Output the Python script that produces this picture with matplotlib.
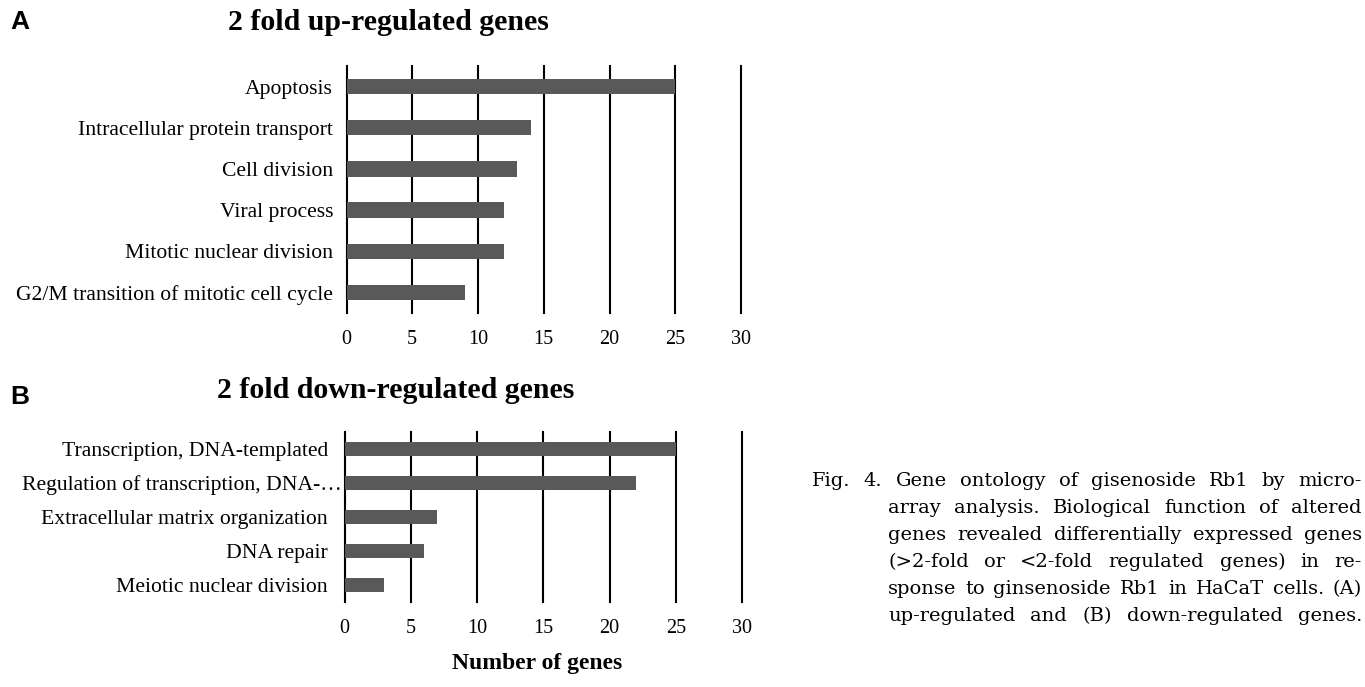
import matplotlib
matplotlib.use("Agg")
import matplotlib.pyplot as plt
import matplotlib.transforms as mtransforms

# ---------------- data ----------------
up_categories = ["Apoptosis", "Intracellular protein transport", "Cell division",
                 "Viral process", "Mitotic nuclear division",
                 "G2/M transition of mitotic cell cycle"]
up_values = [25, 14, 13, 12, 12, 9]

down_categories = ["Transcription, DNA-templated", "Regulation of transcription, DNA-\u2026",
                   "Extracellular matrix organization", "DNA repair",
                   "Meiotic nuclear division"]
down_values = [25, 22, 7, 6, 3]

x_ticks = [0, 5, 10, 15, 20, 25, 30]

title_up = "2 fold up-regulated genes"
title_down = "2 fold down-regulated genes"
xlabel = "Number of genes"

caption_lines = [
    "Fig. 4. Gene ontology of gisenoside Rb1 by micro-",
    "array analysis. Biological function of altered",
    "genes revealed differentially expressed genes",
    "(>2-fold or <2-fold regulated genes) in re-",
    "sponse to ginsenoside Rb1 in HaCaT cells. (A)",
    "up-regulated and (B) down-regulated genes.",
]

# ---------------- figure ----------------
W, H = 1365, 687
fig = plt.figure(figsize=(W / 100, H / 100), dpi=100)
serif = "Liberation Serif"
bar_color = "#595959"


def fx(px):
    return px / W


def fy(py):
    return 1 - py / H


def make_panel(rect, cats, vals, bar_h, tick_pad, label_pad):
    ax = fig.add_axes(rect)
    pos = list(range(len(cats)))
    ax.barh(pos, vals, height=bar_h, color=bar_color, zorder=3)
    ax.set_xlim(0, 30)
    ax.set_ylim(len(cats) - 0.5, -0.5)
    ax.set_xticks(x_ticks)
    ax.set_xticklabels([str(t) for t in x_ticks], fontfamily=serif, fontsize=14.5)
    ax.set_yticks(pos)
    ax.set_yticklabels(cats, fontfamily=serif, fontsize=15.6)
    ax.tick_params(axis="both", length=0)
    ax.tick_params(axis="x", pad=tick_pad)
    ax.tick_params(axis="y", pad=label_pad)
    for s in ax.spines.values():
        s.set_visible(False)
    for t in x_ticks:
        ax.axvline(t, color="black", lw=1.5, zorder=2, clip_on=False)
    return ax


ax1 = make_panel([fx(346.5), fy(313), fx(741) - fx(346.5), fy(66) - fy(313)],
                 up_categories, up_values, 0.37, 12, 9.7)
ax2 = make_panel([fx(344.5), fy(602), fx(742) - fx(344.5), fy(432) - fy(602)],
                 down_categories, down_values, 0.41, 12, 12)

# shift the truncated label a bit to the right, as in the reference
lab = ax2.get_yticklabels()[1]
lab.set_transform(lab.get_transform() +
                  mtransforms.ScaledTranslation(14 / 100, 0, fig.dpi_scale_trans))

# titles / panel letters
fig.text(fx(388), fy(22), title_up, fontfamily=serif, fontweight="bold",
         fontsize=21.5, ha="center", va="center")
fig.text(fx(396), fy(390), title_down, fontfamily=serif, fontweight="bold",
         fontsize=21.5, ha="center", va="center")
fig.text(fx(10), fy(22), "A", fontfamily="Liberation Sans", fontweight="bold",
         fontsize=19, ha="left", va="center")
fig.text(fx(10), fy(397), "B", fontfamily="Liberation Sans", fontweight="bold",
         fontsize=19, ha="left", va="center")
fig.text(fx(537), fy(664), xlabel, fontfamily=serif, fontweight="bold",
         fontsize=17, ha="center", va="center")

# caption, justified
fig.canvas.draw()
renderer = fig.canvas.get_renderer()
cap_font = "DejaVu Serif"
right_px = 1362
base_y0, line_dy = 486, 27
first_left, cont_left = 812, 888


def measure(fs):
    out = []
    for i, line in enumerate(caption_lines):
        ws = []
        for w in line.split(" "):
            t = fig.text(0, 0, w, fontfamily=cap_font, fontsize=fs)
            ws.append(t.get_window_extent(renderer=renderer).width)
            t.remove()
        out.append(ws)
    return out


cap_fs = 14.0
while cap_fs > 10:
    widths_all = measure(cap_fs)
    ok = True
    for i, ws in enumerate(widths_all):
        left_px = first_left if i == 0 else cont_left
        if sum(ws) + 6 * (len(ws) - 1) > right_px - left_px:
            ok = False
    if ok:
        break
    cap_fs -= 0.25

for i, line in enumerate(caption_lines):
    left_px = first_left if i == 0 else cont_left
    words = line.split(" ")
    widths = widths_all[i]
    gap = (right_px - left_px - sum(widths)) / max(len(words) - 1, 1)
    x = left_px
    for w, wd in zip(words, widths):
        fig.text(fx(x), fy(base_y0 + i * line_dy), w, fontfamily=cap_font,
                 fontsize=cap_fs, ha="left", va="baseline")
        x += wd + gap

fig.savefig("out.png", dpi=100)
